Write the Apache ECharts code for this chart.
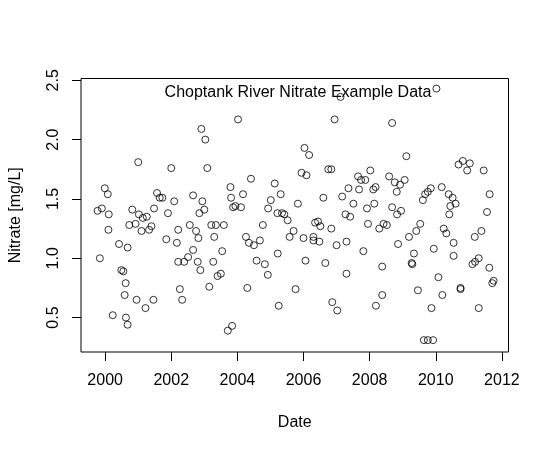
<!DOCTYPE html>
<html>
<head>
<meta charset="utf-8">
<title>Choptank River Nitrate Example Data</title>
<script src="https://cdn.jsdelivr.net/npm/echarts@6.0.0/dist/echarts.min.js"></script>
<style>
  html, body { margin: 0; padding: 0; background: #fff; }
  #main { width: 550px; height: 450px; }
</style>
</head>
<body>
<div id="main"></div>
<script>
// sample dates (decimal years) and nitrate values
var dates = [
  1999.77, 1999.84, 1999.90, 1999.99, 2000.08, 2000.10, 2000.11, 2000.23, 2000.42, 2000.49,
  2000.55, 2000.59, 2000.62, 2000.63, 2000.68, 2000.68, 2000.73, 2000.82, 2000.92, 2000.95,
  2001.00, 2001.02, 2001.10, 2001.14, 2001.22, 2001.26, 2001.33, 2001.40, 2001.46, 2001.48,
  2001.57, 2001.65, 2001.73, 2001.85, 2001.90, 2002.00, 2002.09, 2002.17, 2002.21, 2002.21,
  2002.26, 2002.33, 2002.39, 2002.51, 2002.56, 2002.66, 2002.66, 2002.75,
  2002.80, 2002.82, 2002.85, 2002.88, 2002.91, 2002.94, 2003.00, 2003.03, 2003.09, 2003.15,
  2003.21, 2003.27, 2003.30, 2003.35, 2003.40, 2003.50, 2003.54, 2003.59, 2003.71, 2003.79,
  2003.81, 2003.84, 2003.87, 2003.94, 2004.02, 2004.11, 2004.17, 2004.26, 2004.30, 2004.35,
  2004.41, 2004.50, 2004.58, 2004.68, 2004.77, 2004.83, 2004.92, 2004.93, 2005.01, 2005.13,
  2005.21, 2005.22, 2005.25, 2005.31, 2005.35, 2005.42, 2005.52, 2005.58, 2005.70, 2005.76,
  2005.83,
  2005.94, 2006.00, 2006.03, 2006.06, 2006.09, 2006.17, 2006.30, 2006.30, 2006.35, 2006.44,
  2006.48, 2006.51, 2006.60, 2006.66, 2006.75, 2006.84, 2006.84, 2006.87, 2006.94, 2007.00,
  2007.02, 2007.12, 2007.17, 2007.27, 2007.30, 2007.30, 2007.36, 2007.41, 2007.51, 2007.65,
  2007.68, 2007.74, 2007.81, 2007.87, 2007.92, 2007.95, 2008.02, 2008.11, 2008.14, 2008.18,
  2008.19, 2008.29, 2008.38, 2008.38, 2008.42, 2008.52, 2008.59, 2008.68, 2008.68, 2008.76,
  2008.82, 2008.83, 2008.86, 2008.92, 2008.95, 2009.06,
  2009.11, 2009.19, 2009.27, 2009.29, 2009.34, 2009.41, 2009.46, 2009.53, 2009.61, 2009.64,
  2009.68, 2009.76, 2009.76, 2009.85, 2009.87, 2009.92, 2009.94, 2010.02, 2010.08, 2010.18,
  2010.20, 2010.24, 2010.32, 2010.39, 2010.41, 2010.44, 2010.51, 2010.54, 2010.54, 2010.60,
  2010.69, 2010.75, 2010.75, 2010.82, 2010.95, 2011.03, 2011.11, 2011.18, 2011.19, 2011.30,
  2011.30, 2011.38, 2011.45, 2011.55, 2011.62, 2011.63, 2011.71, 2011.75
];
var nitrate = [
  1.40, 1.00, 1.42, 1.59, 1.54, 1.24, 1.37, 0.52, 1.12, 0.90,
  0.89, 0.69, 0.79, 0.50, 0.44, 1.09, 1.28, 1.41, 1.29, 0.65,
  1.81, 1.37, 1.23, 1.34, 0.58, 1.35, 1.24, 1.27, 0.65, 1.42,
  1.55, 1.51, 1.51, 1.16, 1.38, 1.76, 1.48, 1.13, 1.24, 0.97,
  0.74, 0.65, 0.97, 1.01, 1.28, 1.53, 1.07, 1.23,
  0.97, 1.17, 1.38, 0.90, 2.09, 1.48, 1.41, 2.00, 1.76, 0.76,
  1.28, 0.97, 1.18, 1.28, 0.85, 0.87, 1.06, 1.28, 0.39, 1.60,
  1.51, 0.43, 1.43, 1.44, 2.17, 1.43, 1.54, 1.18, 0.75, 1.13,
  1.67, 1.11, 0.98, 1.15, 1.28, 0.95, 0.86, 1.42, 1.49, 1.63,
  1.38, 1.04, 0.60, 1.54, 1.38, 1.37, 1.32, 1.18, 1.23, 0.74,
  1.46,
  1.72, 1.17, 1.93, 0.98, 1.70, 1.87, 1.18, 1.15, 1.30, 1.31,
  1.14, 1.27, 1.51, 0.96, 1.75, 1.75, 1.25, 0.63, 2.17, 1.11,
  0.56, 2.36, 1.52, 1.37, 1.14, 0.87, 1.59, 1.35, 1.46, 1.69,
  1.58, 1.66, 1.06, 1.66, 1.42, 1.29, 1.74, 1.58, 1.46, 1.60,
  0.60, 1.25, 0.93, 0.69, 1.29, 1.28, 1.69, 2.14, 1.43, 1.64,
  1.56, 1.37, 1.12, 1.62, 1.40, 1.66,
  1.86, 1.18, 0.96, 0.95, 1.04, 1.23, 0.73, 1.29, 1.49, 0.31,
  1.54, 1.56, 0.31, 1.59, 0.58, 0.31, 1.08, 2.43, 0.84, 1.60,
  0.69, 1.25, 1.21, 1.54, 1.37, 1.44, 1.51, 1.13, 1.02, 1.46,
  1.79, 0.75, 0.74, 1.82, 1.74, 1.80, 0.95, 1.18, 0.97, 1.00,
  0.58, 1.23, 1.74, 1.39, 0.92, 1.54, 0.79, 0.81
];
var xTicks = [2000, 2002, 2004, 2006, 2008, 2010, 2012];
var yTicks = [0.5, 1.0, 1.5, 2.0, 2.5];

var points = [];
for (var i = 0; i < dates.length; i++) {
  points.push([dates[i], nitrate[i]]);
}

var font = '"Liberation Sans", Arial, sans-serif';
var chart = echarts.init(document.getElementById('main'), null, { renderer: 'canvas' });

chart.setOption({
  animation: false,
  backgroundColor: '#fff',
  title: {
    text: 'Choptank River Nitrate Example Data',
    left: 293,
    top: 80,
    textAlign: 'center',
    textStyle: { color: '#000', fontFamily: font, fontSize: 16, fontWeight: 'normal' }
  },
  grid: {
    left: 78.5, right: 41.5, top: 78.5, bottom: 98,
    show: true, borderColor: '#000', borderWidth: 1, backgroundColor: 'transparent'
  },
  xAxis: {
    type: 'value',
    min: 1999.27,
    max: 2012.2,
    name: 'Date',
    nameLocation: 'middle',
    nameGap: 63,
    nameTextStyle: { color: '#000', fontFamily: font, fontSize: 16 },
    axisLine: { show: false },
    axisTick: { show: true, length: 9, lineStyle: { color: '#000' }, customValues: xTicks },
    axisLabel: {
      color: '#000', fontFamily: font, fontSize: 16, margin: 21,
      customValues: xTicks,
      formatter: function (v) { return String(Math.round(v)); }
    },
    splitLine: { show: false }
  },
  yAxis: {
    type: 'value',
    min: 0.21,
    max: 2.515,
    name: 'Nitrate [mg/L]',
    nameLocation: 'middle',
    nameRotate: 90,
    nameGap: 57,
    nameTextStyle: { color: '#000', fontFamily: font, fontSize: 16 },
    axisLine: { show: false },
    axisTick: { show: true, length: 9, lineStyle: { color: '#000' }, customValues: yTicks },
    axisLabel: {
      color: '#000', fontFamily: font, fontSize: 16, margin: 19, rotate: 90,
      customValues: yTicks,
      formatter: function (v) { return v.toFixed(1); }
    },
    splitLine: { show: false }
  },
  series: [{
    type: 'scatter',
    data: points,
    symbol: 'circle',
    symbolSize: 7,
    itemStyle: { color: 'rgba(0,0,0,0)', borderColor: '#000', borderWidth: 1 }
  }]
});
</script>
</body>
</html>
